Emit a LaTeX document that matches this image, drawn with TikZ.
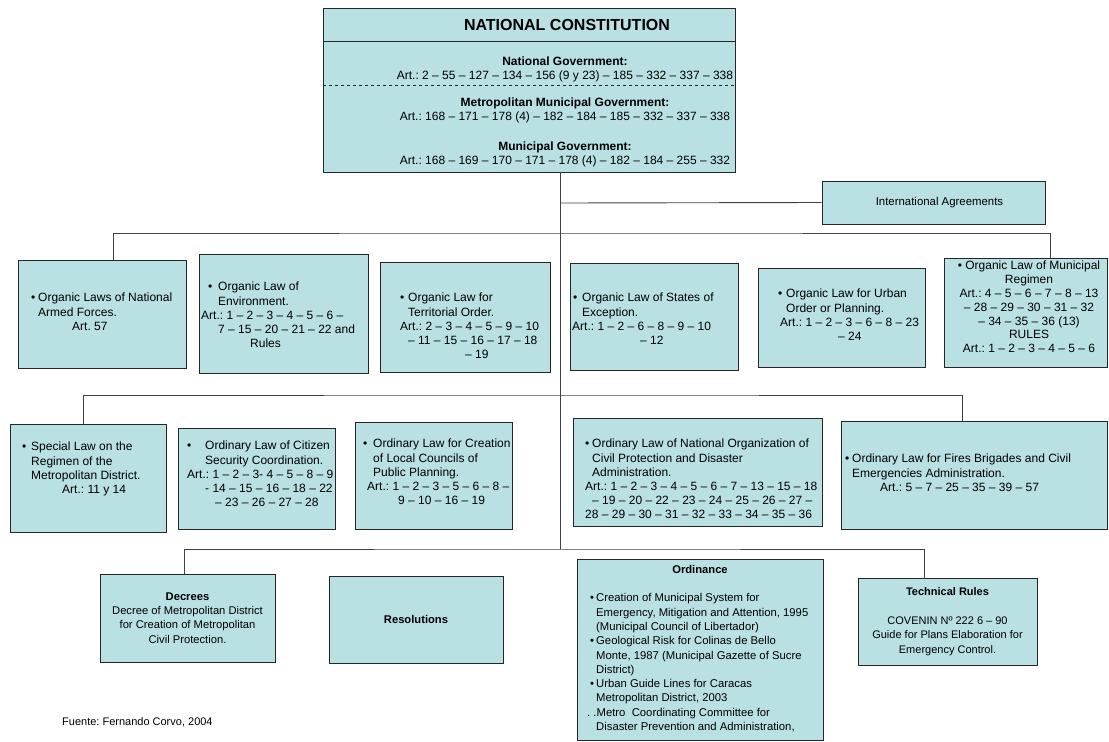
\documentclass[tikz,border=0pt]{standalone}
\usepackage{fontspec}
\setmainfont{Liberation Sans}
\frenchspacing
\definecolor{lawfill}{RGB}{185,224,227}
\newcommand{\bu}[1][8pt]{\makebox[#1][l]{\textbullet}}
\tikzset{
  lawbox/.style={draw=black!85, fill=lawfill, line width=0.9pt, inner sep=0pt, font=\fontsize{12}{14.2}\selectfont, align=center},
  lowbox/.style={lawbox, font=\fontsize{11.2}{14.3}\selectfont},
  lawtext/.style={inner sep=0pt, align=left, anchor=north west, font=\fontsize{12}{14.2}\selectfont},
  govtext/.style={inner sep=0pt, align=center, anchor=north, font=\fontsize{12}{14}\selectfont},
  link/.style={draw=black!75, line width=0.9pt}
}
\begin{document}
\begin{tikzpicture}[x=1pt, y=-1pt]
  \useasboundingbox (0,0) rectangle (1109,742);

  % constitution
  \node[lawbox, minimum width=412, minimum height=164] (constitution) at (529,90) {};
  \draw[line width=0.9pt, black!85] (constitution.west |- 0,41) -- (constitution.east |- 0,41);
  \draw[dashed, black!85] (constitution.west |- 0,85) -- (constitution.east |- 0,85);
  \node[inner sep=0pt, anchor=base, font=\fontsize{16}{18}\selectfont\bfseries] (title) at (567,30) {NATIONAL CONSTITUTION};
  \node[govtext] (natgov) at (565,56.5) {\textbf{National Government:}\\Art.: 2 -- 55 -- 127 -- 134 -- 156 (9 y 23) -- 185 -- 332 -- 337 -- 338};
  \node[govtext] (metgov) at (565,97.5) {\textbf{Metropolitan Municipal Government:}\\Art.: 168 -- 171 -- 178 (4) -- 182 -- 184 -- 185 -- 332 -- 337 -- 338};
  \node[govtext] (mungov) at (565,141.5) {\textbf{Municipal Government:}\\Art.: 168 -- 169 -- 170 -- 171 -- 178 (4) -- 182 -- 184 -- 255 -- 332};

  \node[lawbox, minimum width=223, minimum height=43, font=\fontsize{11.4}{14}\selectfont] (intagr) at (933.5,202.5) {\hspace*{12pt}International Agreements};

  % organic laws
  \node[lawbox, minimum width=168, minimum height=108] (olfan) at (102,314) {};
  \node[lawtext] (olfan-t) at (31,293) {\bu[7pt]Organic Laws of National\\\hspace*{7pt}Armed Forces.\\\hspace*{41pt}Art. 57};
  \node[lawbox, minimum width=169, minimum height=119] (olenv) at (283.5,313.5) {};
  \node[lawtext] (olenv-t) at (201,282) {\hspace*{7pt}\bu[10pt]Organic Law of\\\hspace*{17pt}Environment.\\Art.: 1 -- 2 -- 3 -- 4 -- 5 -- 6 --\\\hspace*{17pt}7 -- 15 -- 20 -- 21 -- 22 and\\\hspace*{49pt}Rules};
  \node[lawbox, minimum width=170, minimum height=110] (olter) at (465,317) {};
  \node[lawtext] (olter-t) at (400,293) {\bu Organic Law for\\\hspace*{8pt}Territorial Order.\\Art.: 2 -- 3 -- 4 -- 5 -- 9 -- 10\\\hspace*{8pt}-- 11 -- 15 -- 16 -- 17 -- 18\\\hspace*{65pt}-- 19};
  \node[lawbox, minimum width=168, minimum height=107] (olexc) at (654,316.5) {};
  \node[lawtext] (olexc-t) at (572,293) {\hspace*{1pt}\bu[9pt]Organic Law of States of\\\hspace*{10pt}Exception.\\Art.: 1 -- 2 -- 6 -- 8 -- 9 -- 10\\\hspace*{68pt}-- 12};
  \node[lawbox, minimum width=167, minimum height=99] (olurb) at (841.5,317.5) {};
  \node[lawtext] (olurb-t) at (778,289) {\bu Organic Law for Urban\\\hspace*{8pt}Order or Planning.\\\hspace*{2pt}Art.: 1 -- 2 -- 3 -- 6 -- 8 -- 23\\\hspace*{60pt}-- 24};
  \node[lawbox, minimum width=163, minimum height=109] (olmun) at (1025.5,312.5) {};
  \node[lawtext, anchor=north, align=center, font=\fontsize{12}{13.8}\selectfont] (olmun-t) at (1029,261) {\textbullet\ Organic Law of Municipal\\Regimen\\Art.: 4 -- 5 -- 6 -- 7 -- 8 -- 13\\-- 28 -- 29 -- 30 -- 31 -- 32\\-- 34 -- 35 -- 36 (13)\\RULES\\Art.: 1 -- 2 -- 3 -- 4 -- 5 -- 6};

  % special and ordinary laws
  \node[lawbox, minimum width=156, minimum height=108] (slmd) at (88,478) {};
  \node[lawtext] (slmd-t) at (22,442) {\bu[9pt]Special Law on the\\\hspace*{9pt}Regimen of the\\\hspace*{9pt}Metropolitan District.\\\hspace*{40pt}Art.: 11 y 14};
  \node[lawbox, minimum width=157, minimum height=101] (olcsc) at (256.5,478.5) {};
  \node[lawtext] (olcsc-t) at (187,441) {\bu[18pt]Ordinary Law of Citizen\\\hspace*{18pt}Security Coordination.\\Art.: 1 -- 2 -- 3- 4 -- 5 -- 8 -- 9\\\hspace*{18pt}- 14 -- 15 -- 16 -- 18 -- 22\\\hspace*{28pt}-- 23 -- 26 -- 27 -- 28};
  \node[lawbox, minimum width=157, minimum height=107] (olclc) at (433.5,475.5) {};
  \node[lawtext] (olclc-t) at (363,439) {\bu[10pt]Ordinary Law for Creation\\\hspace*{10pt}of Local Councils of\\\hspace*{10pt}Public Planning.\\\hspace*{4pt}Art.: 1 -- 2 -- 3 -- 5 -- 6 -- 8 --\\\hspace*{35pt}9 -- 10 -- 16 -- 19};
  \node[lawbox, minimum width=249, minimum height=108] (olcpd) at (697.5,472) {};
  \node[lawtext] (olcpd-t) at (585,439) {\bu[7pt]Ordinary Law of National Organization of\\\hspace*{7pt}Civil Protection and Disaster\\\hspace*{7pt}Administration.\\Art.: 1 -- 2 -- 3 -- 4 -- 5 -- 6 -- 7 -- 13 -- 15 -- 18\\\hspace*{7pt}-- 19 -- 20 -- 22 -- 23 -- 24 -- 25 -- 26 -- 27 --\\28 -- 29 -- 30 -- 31 -- 32 -- 33 -- 34 -- 35 -- 36};
  \node[lawbox, minimum width=266, minimum height=108] (olfbc) at (974,475) {};
  \node[lawtext] (olfbc-t) at (845,454) {\bu[7pt]Ordinary Law for Fires Brigades and Civil\\\hspace*{7pt}Emergencies Administration.\\\hspace*{35pt}Art.: 5 -- 7 -- 25 -- 35 -- 39 -- 57};

  % lower rank rules
  \node[lowbox, minimum width=175, minimum height=88] (decrees) at (187.5,618) {\textbf{Decrees}\\Decree of Metropolitan District\\for Creation of Metropolitan\\Civil Protection.};
  \node[lowbox, minimum width=174, minimum height=87, font=\fontsize{11.2}{14.3}\selectfont\bfseries] (resol) at (416,619.5) {Resolutions};
  \node[lowbox, minimum width=246, minimum height=181] (ordin) at (700,649.5) {};
  \node[inner sep=0pt, anchor=base, font=\fontsize{11.2}{14.3}\selectfont\bfseries] (ordin-h) at (700,573) {Ordinance};
  \node[lawtext, font=\fontsize{11.3}{14.3}\selectfont] (ordin-t) at (587,593.5) {\hspace*{3pt}\bu[6pt]Creation of Municipal System for\\\hspace*{9pt}Emergency, Mitigation and Attention, 1995\\\hspace*{9pt}(Municipal Council of Libertador)\\\hspace*{3pt}\bu[6pt]Geological Risk for Colinas de Bello\\\hspace*{9pt}Monte, 1987 (Municipal Gazette of Sucre\\\hspace*{9pt}District)\\\hspace*{3pt}\bu[6pt]Urban Guide Lines for Caracas\\\hspace*{9pt}Metropolitan District, 2003\\. .Metro\ \ Coordinating Committee for\\\hspace*{9pt}Disaster Prevention and Administration,};
  \node[lowbox, minimum width=179, minimum height=87, font=\fontsize{11}{14.5}\selectfont] (techr) at (947.5,621.5) {\textbf{Technical Rules}\\[14pt]COVENIN Nº 222 6 -- 90\\Guide for Plans Elaboration for\\Emergency Control.};

  \node[inner sep=0pt, anchor=base west, font=\fontsize{11}{13}\selectfont] (source) at (62,725) {Fuente: Fernando Corvo, 2004};

  % connectors
  \coordinate (busA) at (560,203);
  \coordinate (bus1) at (560,233);
  \coordinate (bus2) at (560,395);
  \coordinate (bus3) at (560,549);
  \draw[link] (constitution.south -| bus1) -- (bus3);
  \draw[link] (busA) -- (intagr.west);
  \draw[link] ([xshift=11pt]olfan.north) |- (bus1) -| ([xshift=24.5pt]olmun.north);
  \draw[link] ([xshift=-5pt]slmd.north) |- (bus2) -| ([xshift=-12pt]olfbc.north);
  \draw[link] ([xshift=-3.5pt]decrees.north) |- (bus3) -| ([xshift=-23.5pt]techr.north);
\end{tikzpicture}
\end{document}
